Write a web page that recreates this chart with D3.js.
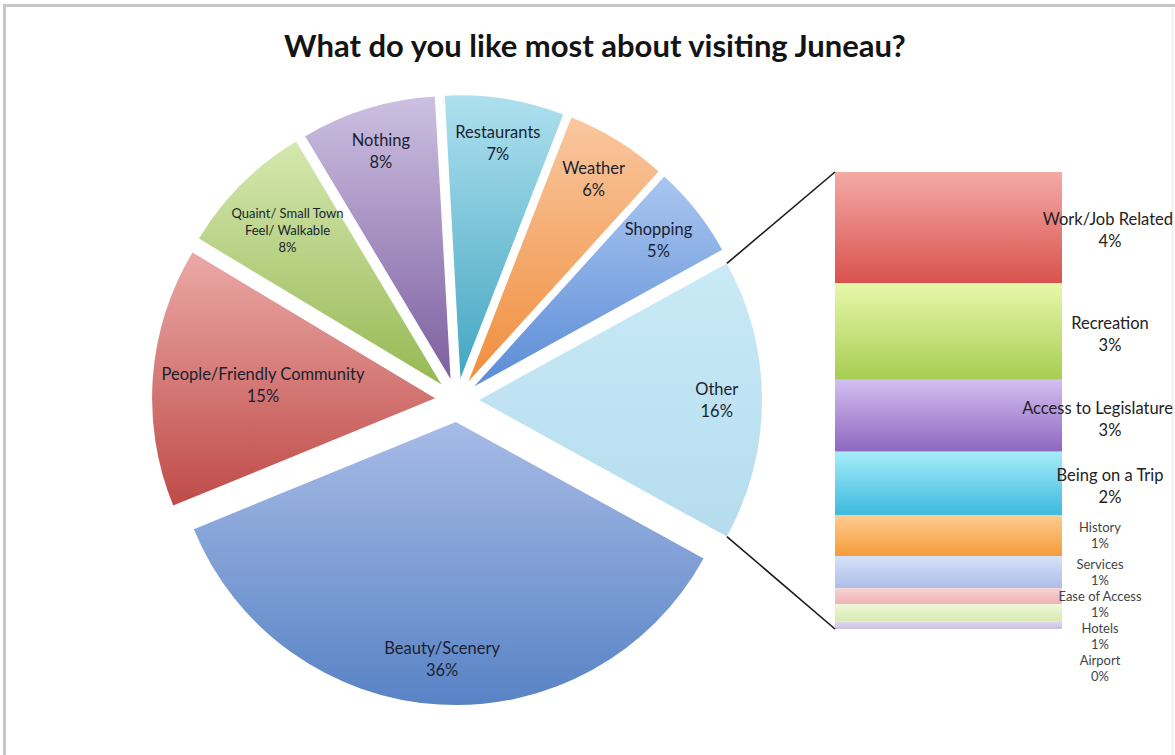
<!DOCTYPE html>
<html>
<head>
<meta charset="utf-8">
<script src="https://cdn.jsdelivr.net/npm/d3@7"></script>
<style>
  html, body { margin: 0; padding: 0; background: #ffffff; }
  svg { display: block; }
  text { font-family: Lato, "Open Sans", "DejaVu Sans", sans-serif; }
</style>
</head>
<body>
<svg id="chart" width="1175" height="755"></svg>
<script>
// ---------- data ----------
const chartTitle = "What do you like most about visiting Juneau?";

// Main pie slices (the "Other" slice is the sum of the breakdown below)
const pieCategories = [
  "Beauty/Scenery",
  "People/Friendly Community",
  "Quaint/ Small Town\nFeel/ Walkable",
  "Nothing",
  "Restaurants",
  "Weather",
  "Shopping"
];
const pieValues = [35.8, 14.8, 7.8, 7.7, 6.8, 5.8, 5.27];

const otherName = "Other";

// Breakdown of "Other", drawn as the stacked bar
const otherCategories = [
  "Work/Job Related",
  "Recreation",
  "Access to Legislature",
  "Being on a Trip",
  "History",
  "Services",
  "Ease of Access",
  "Hotels",
  "Airport"
];
const otherValues = [3.90, 3.39, 2.52, 2.22, 1.44, 1.13, 0.56, 0.61, 0.26];

// ---------- styles ----------
const pieColorsTop    = ["#a7bbe6", "#eaa9a6", "#d5e8b0", "#cdc0e1", "#aee0ef", "#f9c7a0", "#aac6f0"];
const pieColorsBottom = ["#5883c5", "#bf4b48", "#97b955", "#7d5fa0", "#44a6c1", "#f08e3c", "#5a8cd6"];
const otherColorTop = "#c9eaf6", otherColorBottom = "#b5dcee";

const barColorsTop    = ["#f4aaa6", "#e7f8ab", "#d3bff0", "#a6edf9", "#fdcc92", "#d7e1f8", "#f8d2d2", "#eff8d8", "#e0d8ee"];
const barColorsBottom = ["#d9524d", "#a7cd52", "#8e66c0", "#3cbade", "#f69c38", "#adbde9", "#efb3b3", "#d6e9af", "#cbbfe3"];

const compactPieLabels = new Set(["Quaint/ Small Town\nFeel/ Walkable"]);

// ---------- layout ----------
const W = 1175, H = 755;
const pieCx = 457, pieCy = 400, R = 283, explode = 22;
const labelRadius = 0.84;
const bar = { left: 835, right: 1062, top: 172, bottom: 629 };

const svg = d3.select("#chart");
const defs = svg.append("defs");

// frame
svg.append("line").attr("x1", 4).attr("y1", 5.5).attr("x2", 1175).attr("y2", 5.5)
  .attr("stroke", "#c6c6c6").attr("stroke-width", 3);
svg.append("line").attr("x1", 4.5).attr("y1", 4).attr("x2", 4.5).attr("y2", H)
  .attr("stroke", "#c6c6c6").attr("stroke-width", 3);
svg.append("line").attr("x1", 1172.5).attr("y1", 7).attr("x2", 1172.5).attr("y2", H)
  .attr("stroke", "#ececec").attr("stroke-width", 1.5);

// title
svg.append("text")
  .attr("x", 595).attr("y", 57)
  .attr("text-anchor", "middle")
  .attr("font-size", 31).attr("font-weight", 700).attr("fill", "#141414")
  .text(chartTitle);

function verticalGradient(id, top, bottom) {
  const g = defs.append("linearGradient").attr("id", id)
    .attr("x1", 0).attr("y1", 0).attr("x2", 0).attr("y2", 1);
  g.append("stop").attr("offset", "0%").attr("stop-color", top);
  g.append("stop").attr("offset", "100%").attr("stop-color", bottom);
  return `url(#${id})`;
}

// ---------- pie ----------
const otherTotal = d3.sum(otherValues);
const pieData = [{ name: otherName, value: otherTotal, top: otherColorTop, bottom: otherColorBottom }]
  .concat(pieCategories.map((c, i) => ({ name: c, value: pieValues[i], top: pieColorsTop[i], bottom: pieColorsBottom[i] })));
const grandTotal = d3.sum(pieData, d => d.value);
const pct = d3.format(".0%");

// "Other" sits centred on the 3 o'clock direction
const otherSpan = 2 * Math.PI * otherTotal / grandTotal;
const startAngle = Math.PI / 2 - otherSpan / 2;

const pie = d3.pie().sort(null).value(d => d.value)
  .startAngle(startAngle).endAngle(startAngle + 2 * Math.PI);
const arcs = pie(pieData);
const arc = d3.arc().innerRadius(0).outerRadius(R);

const pieG = svg.append("g").attr("transform", `translate(${pieCx},${pieCy})`);

const slices = pieG.selectAll("g.slice").data(arcs).join("g")
  .attr("class", "slice")
  .attr("transform", d => {
    const m = (d.startAngle + d.endAngle) / 2;
    return `translate(${Math.sin(m) * explode},${-Math.cos(m) * explode})`;
  });

slices.append("path")
  .attr("d", arc)
  .attr("fill", (d, i) => verticalGradient("pg" + i, d.data.top, d.data.bottom));

// labels: centred along the bisector, pulled inward until the text box fits
slices.each(function (d) {
  const g = d3.select(this);
  const compact = compactPieLabels.has(d.data.name);
  const fs = compact ? 13 : 16.5;
  const lh = compact ? 17 : 22;
  const lines = d.data.name.split("\n").concat([pct(d.value / grandTotal)]);
  const t = g.append("text")
    .attr("text-anchor", "middle")
    .attr("font-size", fs)
    .attr("fill", "#1a1f30");
  lines.forEach((s, j) => {
    t.append("tspan").attr("x", 0)
      .attr("y", (j - (lines.length - 1) / 2) * lh)
      .attr("dy", "0.35em")
      .text(s);
  });
  const bb = t.node().getBBox();
  const m = (d.startAngle + d.endAngle) / 2;
  let k = labelRadius, px = 0, py = 0;
  for (; k > 0.2; k -= 0.01) {
    px = Math.sin(m) * k * R;
    py = -Math.cos(m) * k * R;
    const corners = [
      [px + bb.x, py + bb.y], [px + bb.x + bb.width, py + bb.y],
      [px + bb.x, py + bb.y + bb.height], [px + bb.x + bb.width, py + bb.y + bb.height]
    ];
    if (corners.every(([x, y]) => Math.hypot(x, y) <= R - 6)) break;
  }
  t.attr("transform", `translate(${px},${py})`);
});

// ---------- stacked bar for "Other" ----------
const y = d3.scaleLinear().domain([0, otherTotal]).range([bar.top, bar.bottom]);
const cum = [0, ...d3.cumsum(otherValues)];
const segs = otherCategories.map((c, i) => ({
  name: c, value: otherValues[i], y0: cum[i], y1: cum[i + 1],
  top: barColorsTop[i], bottom: barColorsBottom[i]
}));

svg.append("g").selectAll("rect").data(segs).join("rect")
  .attr("x", bar.left)
  .attr("width", bar.right - bar.left)
  .attr("y", d => y(d.y0))
  .attr("height", d => y(d.y1) - y(d.y0))
  .attr("fill", (d, i) => verticalGradient("bg" + i, d.top, d.bottom));

// connector lines from the "Other" slice to the bar
const otherArc = arcs[0];
const om = (otherArc.startAngle + otherArc.endAngle) / 2;
const ox = pieCx + Math.sin(om) * explode, oy = pieCy - Math.cos(om) * explode;
const corner = a => [ox + Math.sin(a) * R, oy - Math.cos(a) * R];
const cTop = corner(otherArc.startAngle), cBot = corner(otherArc.endAngle);
svg.append("line").attr("x1", cTop[0]).attr("y1", cTop[1]).attr("x2", bar.left).attr("y2", y(0))
  .attr("stroke", "#1a1a1a").attr("stroke-width", 1.6);
svg.append("line").attr("x1", cBot[0]).attr("y1", cBot[1]).attr("x2", bar.left).attr("y2", y(otherTotal))
  .attr("stroke", "#1a1a1a").attr("stroke-width", 1.6);

// bar labels, pushed down where they would collide
const rightLimit = 1173;
let prevBottom = -Infinity;
const barLabels = svg.append("g");
segs.forEach(d => {
  const small = (y(d.y1) - y(d.y0)) < 50;
  const fs = small ? 13 : 16.5;
  const lh = small ? 16 : 22;
  const labelX = bar.right + (small ? 38 : 48);
  const lines = [d.name, pct(d.value / grandTotal)];
  const half = lh * lines.length / 2;
  let cy = (y(d.y0) + y(d.y1)) / 2 + (small ? 0 : 3);
  if (cy - half < prevBottom) cy = prevBottom + half;
  prevBottom = cy + half;
  const t = barLabels.append("text")
    .attr("text-anchor", "middle")
    .attr("font-size", fs)
    .attr("fill", small ? "#444444" : "#222222");
  lines.forEach((s, j) => {
    const sp = t.append("tspan").attr("x", labelX)
      .attr("y", cy + (j - (lines.length - 1) / 2) * lh)
      .attr("dy", "0.35em").text(s);
    const w = sp.node().getComputedTextLength();
    if (labelX + w / 2 > rightLimit) sp.attr("x", rightLimit - w / 2);
  });
});
</script>
</body>
</html>
